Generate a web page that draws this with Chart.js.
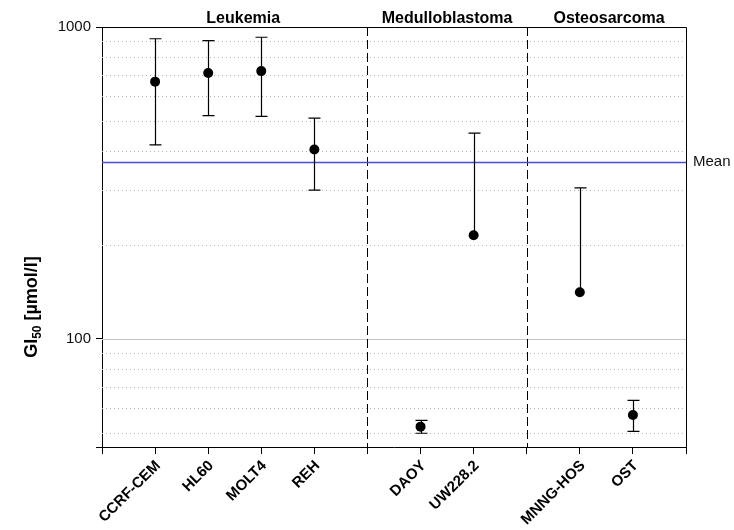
<!DOCTYPE html>
<html>
<head>
<meta charset="utf-8">
<script src="https://cdn.jsdelivr.net/npm/chart.js@4"></script>
<style>
  html, body { margin: 0; padding: 0; background: #fff; }
  #wrap { width: 734px; height: 530px; }
</style>
</head>
<body>
<div id="wrap"><canvas id="myChart" width="734" height="530"></canvas></div>
<script>
// cell lines and where they sit on the x axis (5 and 8 are the group dividers)
const categories = ['CCRF-CEM', 'HL60', 'MOLT4', 'REH', 'DAOY', 'UW228.2', 'MNNG-HOS', 'OST'];
const positions = [1, 2, 3, 4, 6, 7, 9, 10];
const gi50 = [668, 712, 722, 405, 52.3, 215, 141, 57];
const sd = [249, 192, 205, 105, 2.5, 242, 164, 6.5];

const groups = ['Leukemia', 'Medulloblastoma', 'Osteosarcoma'];
const groupCenters = [2.66, 6.5, 9.55];
const dividers = [5, 8];

const meanValue = 370;
const yLabelTicks = [100, 1000];
const minorGrid = [50, 60, 70, 80, 90, 200, 300, 400, 500, 600, 700, 800, 900];

const FONT = '"Liberation Sans", Arial, sans-serif';

let points = positions.map((p, i) => ({ x: p, y: gi50[i] }));

// draws grid, dividers, mean line and the error bars behind the points
const decorations = {
  id: 'decorations',
  beforeDatasetsDraw(chart) {
    let ctx = chart.ctx;
    let xs = chart.scales.x, ys = chart.scales.y;
    let area = chart.chartArea;
    ctx.save();

    // dotted minor lines
    ctx.strokeStyle = '#b4b4b4';
    ctx.lineWidth = 1;
    ctx.setLineDash([1, 3]);
    minorGrid.forEach(v => {
      let y = Math.round(ys.getPixelForValue(v)) + 0.5;
      ctx.beginPath();
      ctx.moveTo(area.left, y);
      ctx.lineTo(area.right, y);
      ctx.stroke();
    });
    ctx.setLineDash([]);

    // solid line at 100
    ctx.strokeStyle = '#c4c4c4';
    let y100 = Math.round(ys.getPixelForValue(100)) + 0.5;
    ctx.beginPath();
    ctx.moveTo(area.left, y100);
    ctx.lineTo(area.right, y100);
    ctx.stroke();

    // dashed group dividers
    ctx.strokeStyle = '#000';
    ctx.setLineDash([9, 4]);
    dividers.forEach(d => {
      let x = Math.round(xs.getPixelForValue(d)) + 0.5;
      ctx.beginPath();
      ctx.moveTo(x, area.top);
      ctx.lineTo(x, area.bottom);
      ctx.stroke();
    });
    ctx.setLineDash([]);

    // mean line
    let ym = Math.round(ys.getPixelForValue(meanValue)) + 0.5;
    ctx.strokeStyle = '#4b4bdc';
    ctx.lineWidth = 1.3;
    ctx.beginPath();
    ctx.moveTo(area.left, ym);
    ctx.lineTo(area.right, ym);
    ctx.stroke();

    // error bars (lower one dropped when it goes below zero on the log axis)
    ctx.strokeStyle = '#000';
    ctx.lineWidth = 1.2;
    positions.forEach((p, i) => {
      let x = Math.round(xs.getPixelForValue(p)) + 0.5;
      let yTop = ys.getPixelForValue(gi50[i] + sd[i]);
      let low = gi50[i] - sd[i];
      let yBot = low > 0 ? ys.getPixelForValue(low) : ys.getPixelForValue(gi50[i]);
      ctx.beginPath();
      ctx.moveTo(x, yTop);
      ctx.lineTo(x, yBot);
      ctx.moveTo(x - 6, yTop);
      ctx.lineTo(x + 6, yTop);
      if (low > 0) {
        ctx.moveTo(x - 6, yBot);
        ctx.lineTo(x + 6, yBot);
      }
      ctx.stroke();
    });

    ctx.restore();
  },
  afterDraw(chart) {
    let ctx = chart.ctx;
    let xs = chart.scales.x, ys = chart.scales.y;
    let area = chart.chartArea;
    ctx.save();

    // top and right edges of the frame
    ctx.strokeStyle = '#000';
    ctx.lineWidth = 1;
    ctx.beginPath();
    ctx.moveTo(area.left, area.top + 0.5);
    ctx.lineTo(area.right + 0.5, area.top + 0.5);
    ctx.lineTo(area.right + 0.5, area.bottom);
    ctx.stroke();

    // group titles
    ctx.fillStyle = '#000';
    ctx.font = 'bold 16px ' + FONT;
    ctx.textAlign = 'center';
    ctx.textBaseline = 'alphabetic';
    groups.forEach((g, i) => {
      ctx.fillText(g, xs.getPixelForValue(groupCenters[i]), 23);
    });

    // mean label
    ctx.font = '15px ' + FONT;
    ctx.textAlign = 'left';
    ctx.textBaseline = 'middle';
    ctx.fillStyle = '#111';
    ctx.fillText('Mean', area.right + 7, ys.getPixelForValue(meanValue));

    // y axis title with subscript
    ctx.translate(37, 307);
    ctx.rotate(-Math.PI / 2);
    ctx.fillStyle = '#000';
    ctx.textBaseline = 'alphabetic';
    let big = 'bold 18px ' + FONT, small = 'bold 12px ' + FONT;
    ctx.font = big;
    let w1 = ctx.measureText('GI').width;
    let w3 = ctx.measureText(' [\u00b5mol/l]').width;
    ctx.font = small;
    let w2 = ctx.measureText('50').width;
    let x0 = -(w1 + w2 + w3) / 2;
    ctx.font = big;
    ctx.textAlign = 'left';
    ctx.fillText('GI', x0, 0);
    ctx.font = small;
    ctx.fillText('50', x0 + w1, 4);
    ctx.font = big;
    ctx.fillText(' [\u00b5mol/l]', x0 + w1 + w2, 0);

    ctx.restore();
  }
};

new Chart(document.getElementById('myChart'), {
  type: 'scatter',
  data: {
    datasets: [{
      data: points,
      pointRadius: 5,
      pointHoverRadius: 5,
      pointBackgroundColor: '#000',
      pointBorderColor: '#000',
      pointBorderWidth: 0
    }]
  },
  options: {
    responsive: false,
    animation: false,
    devicePixelRatio: 1,
    layout: { padding: { top: 27, right: 48, bottom: 0, left: 0 } },
    plugins: {
      legend: { display: false },
      tooltip: { enabled: false }
    },
    scales: {
      x: {
        type: 'linear',
        min: 0,
        max: 11,
        afterBuildTicks: (scale) => {
          let t = [];
          for (let i = 0; i <= 11; i++) t.push({ value: i });
          scale.ticks = t;
        },
        afterFit: (scale) => { scale.height = 83; },
        ticks: {
          autoSkip: false,
          minRotation: 45,
          maxRotation: 45,
          padding: 3,
          labelOffset: 3,
          color: '#000',
          font: { family: FONT, size: 15, weight: 'bold' },
          callback: (v) => {
            let idx = positions.indexOf(v);
            return idx >= 0 ? categories[idx] : '';
          }
        },
        grid: { drawOnChartArea: false, tickLength: 7, color: '#000', tickColor: '#000' },
        border: { color: '#000', width: 1 }
      },
      y: {
        type: 'logarithmic',
        min: 45,
        max: 1000,
        afterBuildTicks: (scale) => {
          scale.ticks = [{ value: 45 }].concat(yLabelTicks.map(v => ({ value: v })));
        },
        afterFit: (scale) => { scale.width = 102; },
        ticks: {
          color: '#111',
          padding: 5,
          font: { family: FONT, size: 15 },
          callback: (v) => yLabelTicks.includes(v) ? String(v) : ''
        },
        grid: { drawOnChartArea: false, tickLength: 6, color: '#000', tickColor: '#000' },
        border: { color: '#000', width: 1 }
      }
    }
  },
  plugins: [decorations]
});
</script>
</body>
</html>
